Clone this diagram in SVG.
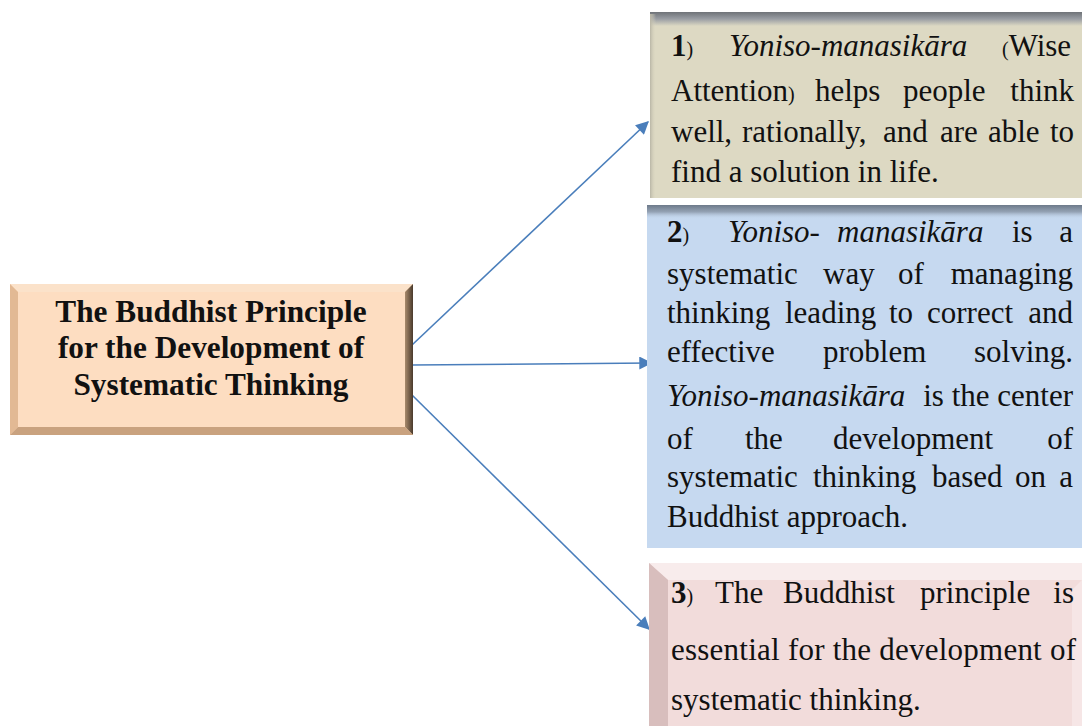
<svg xmlns="http://www.w3.org/2000/svg" width="1082" height="726" viewBox="0 0 1082 726">
<defs>
<style>
.t{font-family:"Liberation Serif","Times New Roman",serif;font-size:31px;fill:#111}
.b{font-weight:bold}
.i{font-style:italic}
.e{text-anchor:end}
.title{font-family:"Liberation Serif","Times New Roman",serif;font-size:31.3px;font-weight:bold;fill:#111;text-anchor:middle}
.p{font-size:20px}
.conn{stroke:#4A7EBB;stroke-width:1.6;fill:none;marker-end:url(#ah)}
</style>
<marker id="ah" viewBox="0 0 10 10" refX="9" refY="5" markerWidth="14" markerHeight="13" markerUnits="userSpaceOnUse" orient="auto">
<path d="M0,0 L10,5 L0,10 z" fill="#4A7EBB"/>
</marker>
<linearGradient id="topShadow" x1="0" y1="0" x2="0" y2="1">
<stop offset="0" stop-color="#6f7378"/>
<stop offset="0.5" stop-color="#9a9ea4"/>
<stop offset="1" stop-color="#9a9ea4" stop-opacity="0"/>
</linearGradient>
<linearGradient id="topShadowB" x1="0" y1="0" x2="0" y2="1">
<stop offset="0" stop-color="#6d7a8a"/>
<stop offset="0.5" stop-color="#95a3b5"/>
<stop offset="1" stop-color="#c6d9f0" stop-opacity="0"/>
</linearGradient>
<linearGradient id="leftShadow" x1="0" y1="0" x2="1" y2="0">
<stop offset="0" stop-color="#b9b6a6"/>
<stop offset="1" stop-color="#ddd9c3" stop-opacity="0"/>
</linearGradient>
<linearGradient id="rightBev" x1="0" y1="0" x2="1" y2="0">
<stop offset="0" stop-color="#a88a6c"/>
<stop offset="1" stop-color="#4a3a2c"/>
</linearGradient>
</defs>
<rect width="1082" height="726" fill="#ffffff"/>

<g id="connectors">
<line class="conn" x1="412" y1="345" x2="648" y2="122"/>
<line class="conn" x1="412" y1="365" x2="651" y2="363"/>
<line class="conn" x1="412" y1="395" x2="649" y2="629"/>
</g>

<g id="node-main">
<rect x="10" y="284" width="403" height="151" fill="#fcd9b8"/>
<polygon points="10,284 413,284 405,292 18,292" fill="#fbe2ca"/>
<polygon points="10,284 18,292 18,427 10,435" fill="#e2b994"/>
<polygon points="413,284 413,435 405,427 405,292" fill="url(#rightBev)"/>
<polygon points="10,435 413,435 405,427 18,427" fill="#c9a27f"/>
<rect x="18" y="292" width="387" height="135" fill="#fdddc1"/>
<text class="title" x="211" y="322">The Buddhist Principle</text>
<text class="title" x="211" y="358">for the Development of</text>
<text class="title" x="211" y="395">Systematic Thinking</text>
</g>

<g id="node-1">
<rect x="650" y="14" width="432" height="184" fill="#ddd9c3"/>
<rect x="650" y="12" width="432" height="14" fill="url(#topShadow)"/>
<rect x="650" y="14" width="6" height="184" fill="url(#leftShadow)"/>
<text class="t" y="56"><tspan x="671" class="b">1</tspan><tspan class="p">)</tspan><tspan x="729" class="i">Yoniso-manasikāra</tspan></text>
<text class="t" y="56"><tspan x="1002" class="p">(</tspan><tspan>Wise</tspan></text>
<text class="t" y="101"><tspan x="671">Attention</tspan><tspan class="p">)</tspan><tspan x="815">helps</tspan><tspan x="903">people</tspan></text>
<text class="t e" x="1074" y="101">think</text>
<text class="t" y="142"><tspan x="671">well,</tspan><tspan x="742">rationally,</tspan><tspan x="883">and</tspan><tspan x="940">are</tspan><tspan x="988">able</tspan></text>
<text class="t e" x="1074" y="142">to</text>
<text class="t" x="671" y="182">find a solution in life.</text>
</g>

<g id="node-2">
<rect x="647" y="205" width="435" height="343" fill="#c6d9f0"/>
<rect x="647" y="205" width="435" height="14" fill="url(#topShadowB)"/>
<text class="t" y="242"><tspan x="667" class="b">2</tspan><tspan class="p">)</tspan><tspan x="728" class="i">Yoniso-</tspan><tspan x="837" class="i">manasikāra</tspan><tspan x="1012">is</tspan></text>
<text class="t e" x="1073" y="242">a</text>
<text class="t" y="284"><tspan x="667">systematic</tspan><tspan x="823">way</tspan><tspan x="898">of</tspan></text>
<text class="t e" x="1073" y="284">managing</text>
<text class="t" y="323"><tspan x="667">thinking</tspan><tspan x="785">leading</tspan><tspan x="889">to</tspan><tspan x="927">correct</tspan></text>
<text class="t e" x="1073" y="323">and</text>
<text class="t" y="362"><tspan x="667">effective</tspan><tspan x="823">problem</tspan></text>
<text class="t e" x="1073" y="362">solving.</text>
<text class="t" y="406"><tspan x="667" class="i">Yoniso-manasikāra</tspan></text>
<text class="t e" x="1073" y="406">is the center</text>
<text class="t" y="449"><tspan x="667">of</tspan><tspan x="745">the</tspan><tspan x="833">development</tspan></text>
<text class="t e" x="1073" y="449">of</text>
<text class="t" y="487"><tspan x="667">systematic</tspan><tspan x="813">thinking</tspan><tspan x="932">based</tspan><tspan x="1015">on</tspan></text>
<text class="t e" x="1073" y="487">a</text>
<text class="t" x="667" y="527">Buddhist approach.</text>
</g>

<g id="node-3">
<rect x="649" y="563" width="433" height="163" fill="#f2dcdb"/>
<polygon points="649,563 1082,563 1082,580 668,580" fill="#f8ecec"/>
<polygon points="649,563 668,580 668,726 649,726" fill="#d8bebd"/>
<polygon points="1082,580 1082,726 1072,726 1072,590" fill="#f6e6e6"/>
<text class="t" y="603"><tspan x="671" class="b">3</tspan><tspan class="p">)</tspan><tspan x="715">The</tspan><tspan x="783">Buddhist</tspan><tspan x="920">principle</tspan></text>
<text class="t e" x="1074" y="603">is</text>
<text class="t" x="671" y="660" textLength="405" lengthAdjust="spacing">essential for the development of</text>
<text class="t" x="671" y="710">systematic thinking.</text>
</g>
</svg>
